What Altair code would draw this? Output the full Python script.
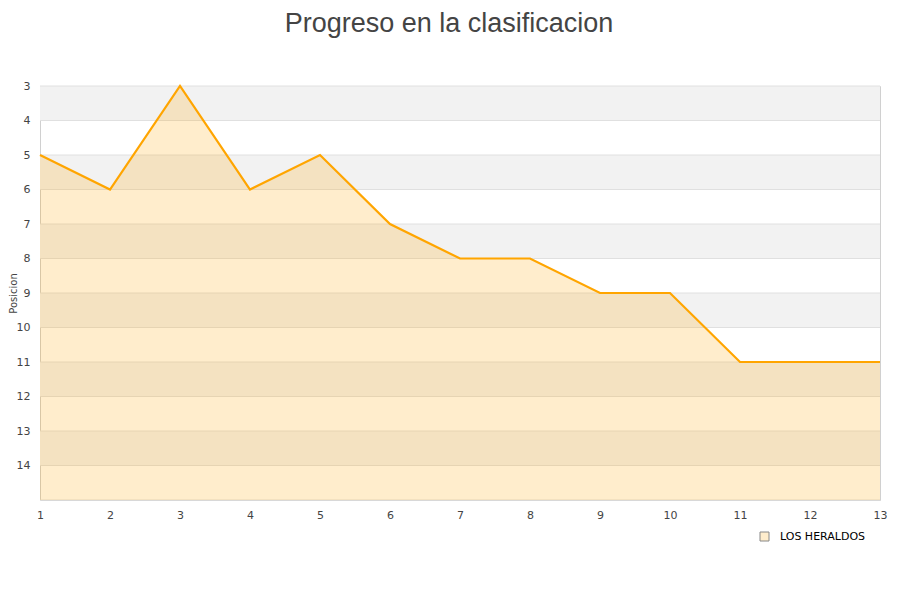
import altair as alt
import pandas as pd

jornadas = [1, 2, 3, 4, 5, 6, 7, 8, 9, 10, 11, 12, 13]
posiciones = [5, 6, 3, 6, 5, 7, 8, 8, 9, 9, 11, 11, 11]
equipo = "LOS HERALDOS"
band_starts = [3, 5, 7, 9, 11, 13]
y_ticks = list(range(3, 16))

df = pd.DataFrame({"jornada": jornadas, "posicion": posiciones, "equipo": [equipo] * len(jornadas)})
bands = pd.DataFrame({"y0": band_starts, "y1": [b + 1 for b in band_starts]})
grid = pd.DataFrame({"y": y_ticks})

yscale = alt.Scale(domain=[3, 15], reverse=True, zero=False, nice=False)
xscale = alt.Scale(domain=[1, 13], nice=False, zero=False)

axis_y = alt.Axis(values=y_ticks, title="Posicion", grid=False,
                  ticks=False, domain=False, labelExpr="datum.value == 15 ? '' : datum.label",
                  labelOverlap=False, labelPadding=10, labelFontSize=11, labelColor="#444",
                  titleFontSize=10, titleFontWeight="normal", titleColor="#444",
                  titleX=-22, titleY=207, titleAngle=270, titleAlign="center",
                  titleBaseline="bottom",
                  labelFont="DejaVu Sans", titleFont="DejaVu Sans")
axis_x = alt.Axis(values=jornadas, title=None, grid=False, ticks=False, domain=False, format="d",
                  labelPadding=9, labelFontSize=11, labelColor="#444", labelFont="DejaVu Sans",
                  labelFlush=False, labelOverlap=False)

band_layer = alt.Chart(bands).mark_rect(color="#f2f2f2").encode(
    y=alt.Y("y0:Q", scale=yscale, axis=axis_y),
    y2="y1:Q",
    x=alt.datum(1, scale=xscale, axis=axis_x),
    x2=alt.datum(13),
)

grid_layer = alt.Chart(grid).mark_rule(color="#e0e0e0", strokeWidth=1).encode(
    y=alt.Y("y:Q", scale=yscale, axis=axis_y),
)

area = alt.Chart(df).mark_area(color="#FFA500", opacity=0.2).encode(
    x=alt.X("jornada:Q", scale=xscale, axis=axis_x),
    y=alt.Y("posicion:Q", scale=yscale, axis=axis_y),
    y2=alt.datum(15),
)

line = alt.Chart(df).mark_line(color="#FFA500", strokeWidth=2.2).encode(
    x=alt.X("jornada:Q", scale=xscale, axis=axis_x),
    y=alt.Y("posicion:Q", scale=yscale, axis=axis_y),
)

legend_layer = alt.Chart(df).mark_square(opacity=0, size=1).encode(
    x=alt.X("jornada:Q", scale=xscale, axis=axis_x),
    y=alt.Y("posicion:Q", scale=yscale, axis=axis_y),
    fill=alt.Fill("equipo:N", scale=alt.Scale(range=["#FFEDCC"]),
                  legend=alt.Legend(title=None, orient="none", legendX=719, legendY=445,
                                    symbolType="square", symbolSize=81, labelOffset=10,
                                    symbolOpacity=1, symbolStrokeColor="#888888",
                                    symbolStrokeWidth=1,
                                    labelFontSize=11, labelColor="#000", labelFont="DejaVu Sans")),
)

chart = alt.layer(band_layer, grid_layer, area, line, legend_layer).properties(
    width=840, height=414,
    title=alt.TitleParams("Progreso en la clasificacion", font="Liberation Sans", fontSize=27,
                          fontWeight="normal", color="#444", anchor="middle", dx=-11, offset=42),
    autosize=alt.AutoSizeParams(type="none"),
    padding={"left": 32, "top": 78, "right": 12, "bottom": 92},
).configure_view(stroke="#d0d0d0", strokeWidth=1).configure_axis(labelOverlap=False)

chart.save("out.html", embed_options={"renderer": "svg", "actions": False})
